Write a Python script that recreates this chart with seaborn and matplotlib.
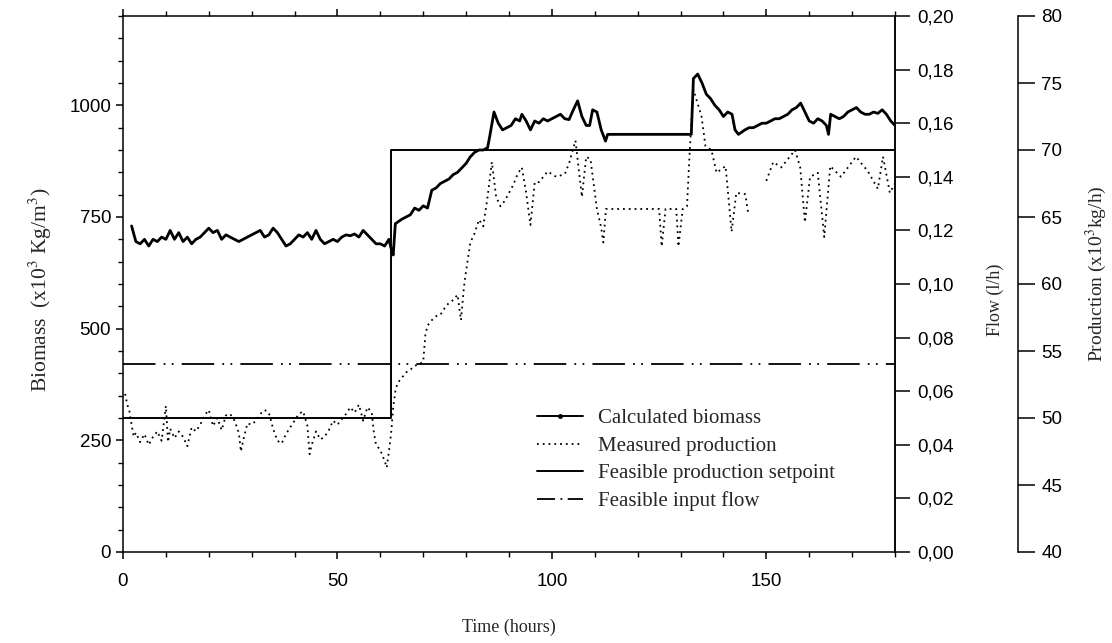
import numpy as np
import pandas as pd
import seaborn as sns
import matplotlib
matplotlib.use('Agg')
from matplotlib import pyplot as plt
from matplotlib.lines import Line2D
from matplotlib.ticker import MultipleLocator, FuncFormatter

# Calculated biomass (x10^3 Kg/m^3), left axis
biomass_t = [2, 3, 4, 5, 6, 7, 8, 9, 10, 11, 12, 13, 14, 15, 16, 17, 18, 19, 20,
             21, 22, 23, 24, 25, 26, 27, 28, 29, 30, 31, 32, 33, 34, 35, 36, 37,
             38, 39, 40, 41, 42, 43, 44, 45, 46, 47, 48, 49, 50, 51, 52, 53, 54,
             55, 56, 57, 58, 59, 60, 61, 62, 62.5, 63, 63.5, 65, 66, 67, 68, 69,
             70, 71, 72, 73, 74, 75, 76, 77, 78, 79, 80, 81, 82, 83, 84, 85, 85.5,
             86.5, 87.5, 88.5, 89.5, 90.5, 91.5, 92.5, 93, 94, 95, 96, 97, 98, 99,
             100, 101, 102, 103, 104, 105, 106, 107, 108, 108.8, 109.5, 110.5,
             111.5, 112.5, 113, 120, 126, 132.5, 133, 134, 135, 136, 137, 138,
             139, 140, 141, 142, 142.7, 143.5, 145, 146, 147, 148, 149, 150, 151,
             152, 153, 154, 155, 156, 157, 158, 159, 160, 161, 162, 163, 164,
             164.5, 165, 166, 167, 168, 169, 170, 171, 172, 173, 174, 175, 176,
             177, 178, 179, 180]
biomass = [730, 695, 690, 700, 685, 700, 695, 705, 700, 720, 700, 715, 695, 705,
           690, 700, 705, 715, 725, 715, 720, 700, 710, 705, 700, 695, 700, 705,
           710, 715, 720, 705, 710, 725, 715, 700, 685, 690, 700, 710, 705, 715,
           700, 720, 700, 690, 695, 700, 695, 705, 710, 708, 712, 705, 720, 710,
           700, 690, 690, 685, 700, 680, 665, 735, 745, 750, 755, 770, 765, 775,
           770, 810, 815, 825, 830, 835, 845, 850, 860, 870, 885, 895, 900, 900,
           905, 930, 985, 960, 945, 950, 955, 970, 965, 980, 965, 945, 965, 960,
           970, 965, 970, 975, 980, 970, 968, 990, 1010, 975, 955, 955, 990, 985,
           945, 920, 935, 935, 935, 935, 1060, 1070, 1050, 1025, 1015, 1000, 990,
           975, 985, 980, 945, 935, 945, 950, 950, 955, 960, 960, 965, 970, 970,
           975, 980, 990, 995, 1005, 985, 965, 960, 970, 965, 955, 935, 980, 975,
           970, 975, 985, 990, 995, 985, 980, 980, 985, 982, 990, 980, 965, 955]

# Measured production (x10^3 kg/h), production axis; segment 1 then segment 2
prod_t1 = [0.5, 1, 1.5, 2, 2.5, 3, 4, 5, 6, 7, 8, 9, 10, 10.5, 11, 12, 13, 14,
           15, 16, 17, 18, 19, 20, 21, 22, 23, 24, 25, 26, 27, 27.5, 28, 29, 30,
           31, 32, 33, 34, 35, 36, 37, 38, 39, 40, 41, 42, 43, 43.5, 44, 45, 46,
           47, 48, 49, 50, 51, 52, 53, 54, 55, 56, 57, 58, 58.5, 59, 60, 61,
           61.5, 62, 62.5, 63, 63.5, 64, 65, 66, 67, 68, 69, 70, 70.5, 71, 72,
           73, 74, 75, 76, 77, 78, 78.8, 79.5, 80, 81, 82, 83, 84, 85, 86, 87,
           88, 89, 90, 91, 92, 93, 94, 95, 96, 97, 99, 101, 103, 104, 105.5,
           107, 108, 109, 110.5, 111.5, 112, 112.6, 115, 120, 125, 125.6, 126.5,
           129, 129.5, 130.5, 131.5, 132.2, 133, 134.9, 135.8, 137.2, 138.4,
           140.5, 141.9, 143, 145.1, 145.8]
prod1 = [51.8, 51.0, 50.5, 49.5, 48.6, 48.9, 48.2, 48.8, 48.0, 48.6, 49.0, 48.3,
         50.9, 48.2, 49.2, 48.5, 49.0, 48.6, 47.9, 49.3, 49.0, 49.5, 50.2, 50.6,
         49.4, 50.0, 49.1, 50.2, 50.3, 49.8, 48.9, 47.5, 48.3, 49.6, 49.5, 49.8,
         50.3, 50.6, 50.4, 49.2, 48.3, 48.1, 48.8, 49.3, 49.8, 50.3, 50.5, 49.4,
         47.3, 48.0, 49.0, 48.4, 48.6, 49.1, 49.8, 49.5, 49.9, 50.3, 50.8, 50.4,
         51.0, 49.8, 50.8, 50.4, 48.9, 48.0, 47.6, 46.8, 46.3, 47.5, 48.8, 50.8,
         52.0, 52.6, 53.0, 53.4, 53.6, 53.9, 54.0, 54.2, 56.2, 56.9, 57.3, 57.6,
         57.7, 58.2, 58.6, 58.8, 59.2, 57.3, 59.8, 61.0, 63.1, 63.8, 64.8, 64.3,
         66.5, 69.1, 66.5, 65.8, 66.2, 66.8, 67.4, 68.2, 68.7, 66.8, 64.4, 67.6,
         67.6, 68.4, 68.0, 68.2, 69.0, 70.7, 66.5, 69.5, 69.3, 65.6, 64.2, 63.1,
         65.6, 65.6, 65.6, 65.6, 62.8, 65.6, 65.6, 62.8, 65.6, 65.8, 70.3, 74.5,
         72.5, 70.3, 70.0, 68.3, 68.8, 63.9, 66.8, 66.7, 65.2]
prod_t2 = [150, 151.6, 153.5, 156.7, 157.9, 159, 160.2, 162, 163.5, 164.9, 167.4,
           170.9, 173.7, 176, 177.2, 178.8, 180]
prod2 = [67.7, 69.1, 68.7, 70.0, 68.7, 64.6, 68.0, 68.3, 63.5, 68.8, 68.0, 69.5,
         68.4, 67.1, 69.5, 66.8, 67.5]

# Feasible production setpoint (x10^3 kg/h)
setpoint_t = [0, 62.5, 62.5, 180]
setpoint = [50, 50, 70, 70]

# Feasible input flow (l/h)
flow_t = [0, 180]
flow = [0.07, 0.07]

legend_labels = ['Calculated biomass', 'Measured production',
                 'Feasible production setpoint', 'Feasible input flow']

sns.set_theme(style='ticks')
plt.rcParams['font.family'] = ['Liberation Sans', 'DejaVu Sans']
plt.rcParams['mathtext.fontset'] = 'stix'
plt.rcParams['axes.linewidth'] = 1.1

serif = ['Liberation Serif', 'DejaVu Serif']
dashdotdot = (0, (18, 4.5, 1, 3.5, 1, 4.5))
dotted = (0, (1, 2.2))
tick_size = 13.5

fig = plt.figure(figsize=(11.12, 6.43), dpi=100)
ax = fig.add_axes([123 / 1112, 91 / 643, 772 / 1112, 536 / 643])
ax2 = ax.twinx()
ax3 = ax.twinx()

sns.lineplot(x=biomass_t, y=biomass, ax=ax, color='black', linewidth=2.0,
             estimator=None, sort=False)

prod_df = pd.DataFrame({'t': prod_t1 + prod_t2, 'v': prod1 + prod2,
                        'seg': [1] * len(prod_t1) + [2] * len(prod_t2)})
sns.lineplot(data=prod_df, x='t', y='v', units='seg', estimator=None, sort=False,
             ax=ax3, color='black', linewidth=1.3, linestyle=dotted)
sns.lineplot(x=setpoint_t, y=setpoint, ax=ax3, color='black', linewidth=1.4,
             estimator=None, sort=False)
sns.lineplot(x=flow_t, y=flow, ax=ax2, color='black', linewidth=1.3,
             linestyle=dashdotdot, estimator=None, sort=False)

# main axes
ax.set_xlim(0, 180)
ax.set_ylim(0, 1200)
ax.xaxis.set_major_locator(MultipleLocator(50))
ax.xaxis.set_minor_locator(MultipleLocator(10))
ax.set_yticks([0, 250, 500, 750, 1000])
ax.yaxis.set_minor_locator(MultipleLocator(50))
ax.tick_params(which='major', direction='out', length=5, width=1.1, colors='black',
               labelsize=tick_size, top=True, right=False)
ax.tick_params(which='minor', direction='out', length=3.5, width=1, top=True,
               right=False, colors='black')
ax.tick_params(axis='x', pad=10)
ax.set_xlabel('Time (hours)', family=serif, fontsize=13)
ax.xaxis.set_label_coords(0.5, -0.125)
ax.set_ylabel(r'Biomass  (x10$^3$ Kg/m$^3$)', family=serif, fontsize=15.5)
ax.yaxis.set_label_coords(-0.089, 0.49)

# flow axis
ax2.set_ylim(0, 0.2)
ax2.set_yticks(np.arange(0, 0.201, 0.02))
ax2.yaxis.set_major_formatter(FuncFormatter(lambda v, p: f'{v:.2f}'.replace('.', ',')))
ax2.tick_params(axis='y', direction='out', length=11, width=1.1, labelsize=tick_size,
                colors='black', pad=5)
for s in ['top', 'left', 'bottom']:
    ax2.spines[s].set_visible(False)
ax2.set_ylabel('Flow (l/h)', family=serif, fontsize=13)
ax2.yaxis.set_label_coords(1.119, 0.47)

# production axis
ax3.set_ylim(40, 80)
ax3.set_yticks(np.arange(40, 81, 5))
ax3.spines['right'].set_position(('axes', 1.159))
for s in ['top', 'left', 'bottom']:
    ax3.spines[s].set_visible(False)
ax3.tick_params(axis='y', direction='out', length=12, width=1.1, labelsize=tick_size,
                colors='black', pad=5)
ax3.set_ylabel(r'Production (x10$^3$kg/h)', family=serif, fontsize=14)
ax3.yaxis.set_label_coords(1.245, 0.52)

for a in (ax, ax2, ax3):
    a.set_facecolor('none')
    for sp in a.spines.values():
        sp.set_color('black')

handles = [
    Line2D([0, 0.5, 1], [0, 0, 0], color='black', linewidth=1.4, marker='o',
           markersize=2.5, markevery=[1]),
    Line2D([], [], color='black', linewidth=1.3, linestyle=dotted),
    Line2D([], [], color='black', linewidth=1.4),
    Line2D([], [], color='black', linewidth=1.3, linestyle=(0, (10, 3, 1, 3))),
]
ax.legend(handles, legend_labels, loc='upper left', bbox_to_anchor=(0.536, 0.267),
          frameon=False, prop={'family': serif, 'size': 15}, handlelength=2.2,
          handletextpad=0.72, labelspacing=0.38, borderaxespad=0, borderpad=0)

fig.savefig('out.png', dpi=100)
